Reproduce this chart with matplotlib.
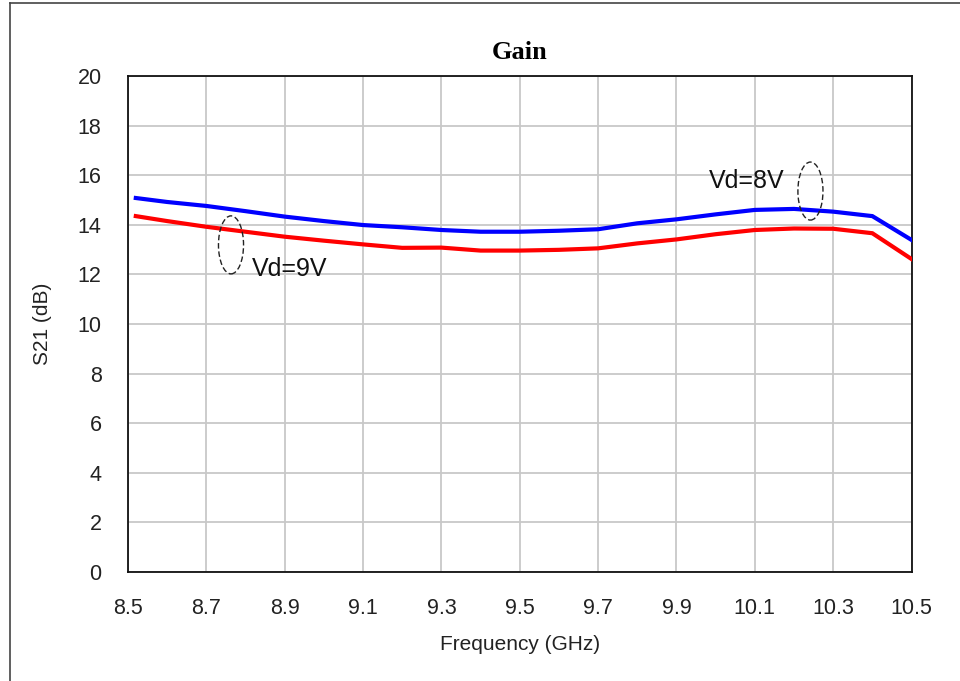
import numpy as np
import matplotlib
matplotlib.use("Agg")
import matplotlib.pyplot as plt
from matplotlib.patches import Ellipse
from matplotlib.lines import Line2D

# S21 gain (GHz, dB)
freq = [8.52, 8.6, 8.7, 8.8, 8.9, 9.0, 9.1, 9.2, 9.3, 9.4, 9.5, 9.6, 9.7,
        9.8, 9.9, 10.0, 10.1, 10.2, 10.3, 10.4, 10.5]
gain_8v = [15.08, 14.92, 14.76, 14.55, 14.33, 14.15, 13.99, 13.9, 13.79, 13.72, 13.72,
           13.76, 13.82, 14.06, 14.22, 14.42, 14.6, 14.64, 14.53, 14.35, 13.39]
gain_9v = [14.35, 14.15, 13.92, 13.72, 13.52, 13.36, 13.21, 13.07, 13.08, 12.96, 12.96,
           12.99, 13.05, 13.25, 13.41, 13.62, 13.79, 13.85, 13.84, 13.66, 12.62]

xticks = [8.5, 8.7, 8.9, 9.1, 9.3, 9.5, 9.7, 9.9, 10.1, 10.3, 10.5]
yticks = np.arange(0, 21, 2)

plt.rcParams['font.family'] = ['Liberation Sans', 'DejaVu Sans']

fig = plt.figure(figsize=(9.6, 6.81), dpi=100)
ax = fig.add_axes([0.1333, 0.1601, 0.8162, 0.7283])

ax.plot(freq, gain_8v, color='#0000ff', lw=3, solid_joinstyle='miter', zorder=3)
ax.plot(freq, gain_9v, color='#ff0000', lw=3, solid_joinstyle='miter', zorder=3)

ax.set_xlim(8.5, 10.5)
ax.set_ylim(0, 20)
ax.set_xticks(xticks)
ax.set_xticklabels([f"{t:g}" for t in xticks])
ax.set_yticks(yticks)
ax.tick_params(length=0, labelsize=15.5, colors='#222222')
ax.tick_params(axis='x', pad=19)
ax.tick_params(axis='y', pad=19)
ax.grid(True, color='#c8c8c8', lw=1.3)
ax.set_axisbelow(True)
for s in ax.spines.values():
    s.set_linewidth(1.3)
    s.set_color('#111111')

ax.set_title("Gain", fontsize=19, fontweight='bold', family='Liberation Serif', pad=12)
ax.set_xlabel("Frequency (GHz)", fontsize=15, labelpad=11, color='#222222')
ax.set_ylabel("S21 (dB)", fontsize=15, labelpad=18, color='#222222')

# dashed ellipses marking each curve
for cx, cy in [(8.763, 13.19), (10.242, 15.36)]:
    ax.add_patch(Ellipse((cx, cy), 0.064, 2.34, fill=False, ls=(0, (4, 2)),
                         lw=1.0, ec='#222222', zorder=4))
ax.text(8.817, 12.22, "Vd=9V", fontsize=18, va='center', ha='left', color='#111111')
ax.text(9.984, 15.77, "Vd=8V", fontsize=18, va='center', ha='left', color='#111111')

# outer frame of the screenshot
fig.add_artist(Line2D([10/960, 10/960], [0, 1 - 3/681], color='#444444', lw=1.2))
fig.add_artist(Line2D([10/960, 1], [1 - 3/681, 1 - 3/681], color='#444444', lw=1.2))

fig.savefig("out.png", dpi=100)
